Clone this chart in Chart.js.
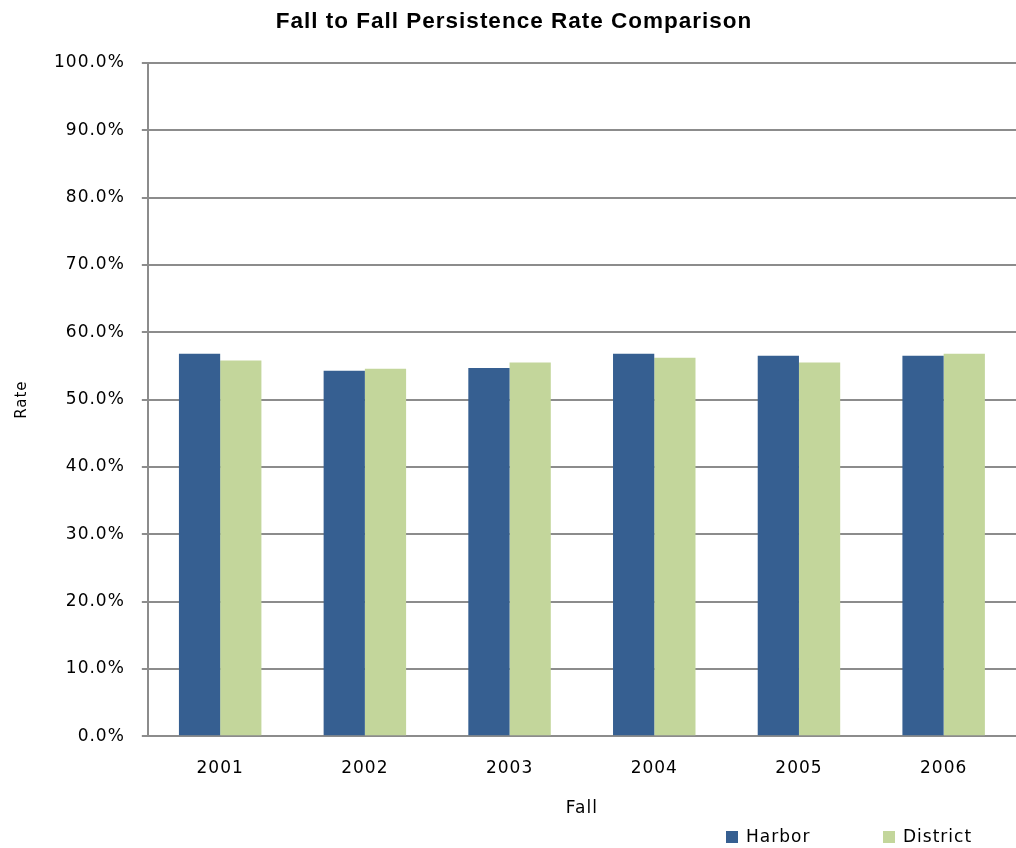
<!DOCTYPE html>
<html>
<head>
<meta charset="utf-8">
<script src="https://cdn.jsdelivr.net/npm/chart.js@4"></script>
<style>
  html, body { margin: 0; padding: 0; background: #fff; }
  #wrap { width: 1016px; height: 848px; }
</style>
</head>
<body>
<div id="wrap"><canvas id="rateChart"></canvas></div>
<script>
// Fall to Fall persistence rates
const years = ['2001', '2002', '2003', '2004', '2005', '2006'];
const harborRates = [56.8, 54.3, 54.7, 56.8, 56.5, 56.5];
const districtRates = [55.8, 54.6, 55.5, 56.2, 55.5, 56.8];

const axisGray = '#8c8c8c';
const tickFont = { family: 'DejaVu Sans', size: 17 };

// the original uses slightly tracked-out text
const spacingPlugin = {
    id: 'spacing',
    beforeLayout(chart) { chart.ctx.letterSpacing = '1px'; },
    beforeDraw(chart) { chart.ctx.letterSpacing = '1px'; }
};

// legend sits bottom right, under the axis title
const legendPlugin = {
    id: 'cornerLegend',
    afterDraw(chart) {
        const c = chart.ctx;
        const spots = [726, 883];
        c.save();
        c.font = '17px "DejaVu Sans"';
        c.textBaseline = 'middle';
        chart.data.datasets.forEach((ds, i) => {
            c.fillStyle = ds.backgroundColor;
            c.fillRect(spots[i], 831, 12, 12);
            c.fillStyle = '#000';
            c.fillText(ds.label, spots[i] + 20, 838);
        });
        c.restore();
    }
};

const ctx = document.getElementById('rateChart').getContext('2d');

const rateChart = new Chart(ctx, {
    type: 'bar',
    data: {
        labels: years,
        datasets: [{
            label: 'Harbor',
            data: harborRates,
            backgroundColor: '#365f91',
            categoryPercentage: 0.57,
            barPercentage: 1
        }, {
            label: 'District',
            data: districtRates,
            backgroundColor: '#c3d69b',
            categoryPercentage: 0.57,
            barPercentage: 1
        }]
    },
    options: {
        responsive: true,
        maintainAspectRatio: false,
        animation: false,
        // plot runs slightly past the right edge, as in the original crop
        layout: { padding: { left: 4, right: -8, top: 8, bottom: 4 } },
        scales: {
            y: {
                min: 0,
                max: 100,
                ticks: {
                    stepSize: 10,
                    color: '#000',
                    font: tickFont,
                    padding: 17,
                    callback: v => v.toFixed(1) + '%'
                },
                grid: { color: axisGray, lineWidth: 2, tickLength: 6 },
                border: { color: axisGray, width: 2 },
                title: {
                    display: true,
                    text: 'Rate',
                    color: '#000',
                    font: { family: 'DejaVu Sans', size: 15 },
                    padding: { top: 9, bottom: 6 }
                }
            },
            x: {
                ticks: { color: '#000', font: tickFont, padding: 22 },
                grid: { display: false, drawTicks: false },
                border: { color: axisGray, width: 2 },
                title: {
                    display: true,
                    text: 'Fall',
                    color: '#000',
                    font: { family: 'DejaVu Sans', size: 17 },
                    padding: { top: -2, bottom: 25 }
                }
            }
        },
        plugins: {
            title: {
                display: true,
                text: 'Fall to Fall Persistence Rate Comparison',
                color: '#000',
                font: { family: 'Liberation Sans', size: 22.5, weight: 'bold' },
                padding: { top: 0, bottom: 28 }
            },
            legend: { display: false },
            tooltip: { enabled: false }
        }
    },
    plugins: [spacingPlugin, legendPlugin]
});
</script>
</body>
</html>
